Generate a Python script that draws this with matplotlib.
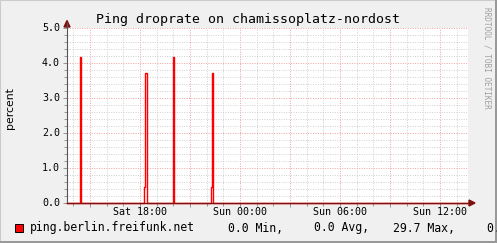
import matplotlib
matplotlib.use("Agg")
import matplotlib.pyplot as plt
from matplotlib.patches import Polygon, Rectangle
from matplotlib.ticker import MultipleLocator, FixedLocator

# -----------------------------
# Data (hours relative to Sun 00:00, step values in percent)
# -----------------------------
times = [-10.38, -9.60, -9.54, -5.76, -5.70, -5.58, -4.05, -3.99,
         -1.74, -1.68, -1.62, 13.68]
droprate = [0.0, 4.16, 0.0, 0.45, 3.71, 0.0, 4.16, 0.0,
            0.45, 3.71, 0.0, 0.0]

tick_hours = [-6, 0, 6, 12]
tick_labels = ["Sat 18:00", "Sun 00:00", "Sun 06:00", "Sun 12:00"]
y_ticks = [0.0, 1.0, 2.0, 3.0, 4.0, 5.0]

title = "Ping droprate on chamissoplatz-nordost"
series_name = "ping.berlin.freifunk.net"
stats = ["0.0 Min,", "0.0 Avg,", "29.7 Max,", "0.0 Last"]

# -----------------------------
# Layout (pixels)
# -----------------------------
W, H = 497, 243
X0, X1 = 67, 468      # plot area left / right
Y0, Y1 = 203, 28      # value 0 / value 5
MONO = "DejaVu Sans Mono"


def fx(px):
    return px / W


def fy(py):
    return 1 - py / H


fig = plt.figure(figsize=(W / 100, H / 100), dpi=100, facecolor="#F0F0F0")

# frame shading
fig.patches.append(Rectangle((0, 0), 1, 1, transform=fig.transFigure, fill=False,
                             edgecolor="#CBCBCB", linewidth=1.5))
fig.patches.append(Rectangle((fx(W - 2.5), 0), fx(2.5), 1, transform=fig.transFigure,
                             facecolor="#999999", edgecolor="none"))
fig.patches.append(Rectangle((0, 0), 1, 2.5 / H, transform=fig.transFigure,
                             facecolor="#999999", edgecolor="none"))

ax = fig.add_axes([fx(X0), fy(Y0), fx(X1 - X0), (Y0 - Y1) / H])
ax.set_facecolor("white")
ax.set_xlim(-10.38, 13.68)
ax.set_ylim(0, 5)

for s in ax.spines.values():
    s.set_visible(False)

# grids
ax.xaxis.set_minor_locator(MultipleLocator(1))
ax.xaxis.set_major_locator(MultipleLocator(3))
ax.yaxis.set_minor_locator(MultipleLocator(0.2))
ax.yaxis.set_major_locator(FixedLocator(y_ticks))
ax.grid(which="minor", color="#CFCFCF", linestyle=(0, (1, 1.5)), linewidth=0.7)
ax.grid(which="major", color="#F0A0A0", linestyle=(0, (1, 1.5)), linewidth=0.7)
ax.set_axisbelow(True)
ax.tick_params(which="both", length=2, width=0.6, color="#888888",
               labelbottom=False, labelleft=False)
ax.tick_params(which="major", length=3)

# data line
ax.plot(times, droprate, drawstyle="steps-post", color="#FF0000",
        linewidth=1.0, clip_on=False, zorder=3)

# axes lines + arrows
fig.add_artist(plt.Line2D([fx(X0), fx(X0)], [fy(Y0), fy(23)], color="#555555", linewidth=0.8))
fig.add_artist(plt.Line2D([fx(X0), fx(470)], [fy(Y0), fy(Y0)], color="#801010", linewidth=1.0))
fig.patches.append(Polygon([(fx(X0 - 3), fy(27)), (fx(X0 + 3), fy(27)), (fx(X0), fy(20.5))],
                           closed=True, transform=fig.transFigure, color="#801010"))
fig.patches.append(Polygon([(fx(469), fy(Y0 - 3)), (fx(469), fy(Y0 + 3)), (fx(475), fy(Y0))],
                           closed=True, transform=fig.transFigure, color="#801010"))

# tick labels
for v in y_ticks:
    fig.text(fx(60), fy(Y0 - v * (Y0 - Y1) / 5), f"{v:.1f}", family=MONO, fontsize=7.2,
             ha="right", va="center")
for h, lab in zip(tick_hours, tick_labels):
    fig.text(fx(240 + h * 100 / 6), fy(212), lab, family=MONO, fontsize=7.2,
             ha="center", va="center")

# title, axis label, watermark
fig.text(0.5, fy(19), title, family=MONO, fontsize=9.5, ha="center", va="center")
fig.text(fx(10), fy(108), "percent", fontsize=7.8, rotation=90, ha="center", va="center")
fig.text(fx(486.5), fy(58), "RRDTOOL / TOBI OETIKER", family=MONO, fontsize=5.6,
         rotation=270, ha="center", va="center", color="#A0A0A0")

# legend
fig.patches.append(Rectangle((fx(15), fy(232)), fx(8), 8 / H, transform=fig.transFigure,
                             facecolor="#FF0000", edgecolor="black", linewidth=0.7))
fig.text(fx(30), fy(228), series_name, family=MONO, fontsize=8.3, va="center")
for xpos, s in zip([228, 314, 393, 487], stats):
    fig.text(fx(xpos), fy(228), s, family=MONO, fontsize=8.3, va="center")

fig.savefig("out.png", dpi=100, facecolor=fig.get_facecolor())
